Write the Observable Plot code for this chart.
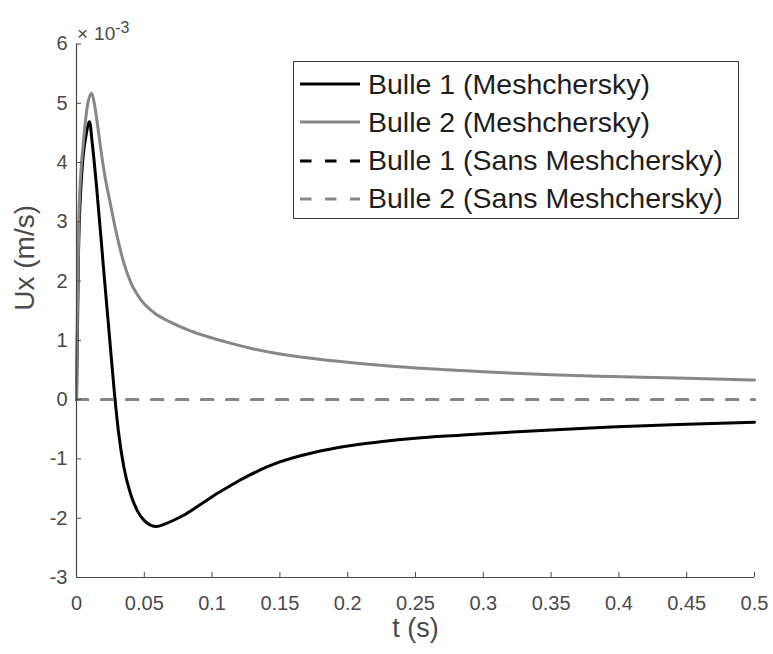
<!DOCTYPE html>
<html>
<head>
<meta charset="utf-8">
<script src="https://cdn.jsdelivr.net/npm/d3@7"></script>
<script src="https://cdn.jsdelivr.net/npm/@observablehq/plot@0.6"></script>
<style>
  body { margin: 0; background: #fff; font-family: "Liberation Sans", Arial, sans-serif; }
  #wrap { position: relative; width: 773px; height: 654px; }
  #legend { position: absolute; left: 293px; top: 61px; width: 446px; height: 158px;
            border: 1px solid #3a3a3a; background: #fff; box-sizing: border-box; }
  .row { position: absolute; left: 6px; height: 36px; display: flex; align-items: center; }
  .row span { font-size: 28.5px; color: #1e1e1e; margin-left: 8px; white-space: nowrap; }
  #expo { position: absolute; left: 77px; top: 19px; font-size: 19px; color: #4a4a4a; white-space: nowrap; font-family: "Liberation Sans", Arial, sans-serif; }
  #expo .x { margin-right: 6px; }
  #expo sup { font-size: 16px; vertical-align: 7px; }
</style>
</head>
<body>
<div id="wrap">
  <div id="chart"></div>
  <div id="legend"></div>
  <div id="expo"><span class="x">×</span>10<sup>-3</sup></div>
</div>
<script>
// ---- data (Ux in units of 1e-3 m/s) ----
const t1 = [0, 0.0015, 0.004, 0.007, 0.0096, 0.0116, 0.0152, 0.02, 0.024, 0.028, 0.031, 0.035, 0.04, 0.045, 0.05, 0.055, 0.059, 0.065, 0.072, 0.079, 0.09, 0.104, 0.115, 0.128, 0.14, 0.15, 0.175, 0.2, 0.224, 0.25, 0.283, 0.3, 0.35, 0.394, 0.45, 0.5];
const u1 = [0, 2.5, 3.85, 4.45, 4.69, 4.33, 3.49, 2.2, 1.15, 0.1, -0.55, -1.15, -1.6, -1.88, -2.04, -2.12, -2.14, -2.1, -2.03, -1.95, -1.79, -1.58, -1.43, -1.27, -1.14, -1.05, -0.89, -0.78, -0.71, -0.65, -0.6, -0.575, -0.51, -0.46, -0.415, -0.38];

const t2 = [0, 0.0006, 0.0017, 0.003, 0.0049, 0.008, 0.011, 0.0135, 0.016, 0.02, 0.025, 0.03, 0.035, 0.04, 0.047, 0.057, 0.07, 0.084, 0.1, 0.114, 0.13, 0.15, 0.187, 0.224, 0.26, 0.3, 0.35, 0.394, 0.45, 0.5];
const u2 = [0, 1.4, 3.0, 3.75, 4.3, 4.95, 5.17, 4.95, 4.55, 3.9, 3.3, 2.75, 2.3, 1.98, 1.7, 1.47, 1.3, 1.16, 1.04, 0.95, 0.86, 0.77, 0.66, 0.58, 0.52, 0.47, 0.42, 0.39, 0.36, 0.33];

const tSans = [0, 0.5];
const u1Sans = [0, 0];
const u2Sans = [0, 0];

const seriesNames = ["Bulle 1 (Meshchersky)", "Bulle 2 (Meshchersky)", "Bulle 1 (Sans Meshchersky)", "Bulle 2 (Sans Meshchersky)"];
const xTicks = [0, 0.05, 0.1, 0.15, 0.2, 0.25, 0.3, 0.35, 0.4, 0.45, 0.5];
const yTicks = [-3, -2, -1, 0, 1, 2, 3, 4, 5, 6];

// ---- styles ----
const BLACK = "#000000", GRAY = "#878787", AXIS = "#4a4a4a";
const DASH = "11.5,13.5";
const styles = [
  {stroke: BLACK, dash: null},
  {stroke: GRAY, dash: null},
  {stroke: BLACK, dash: DASH},
  {stroke: GRAY, dash: DASH}
];

const zip = (ts, us) => ts.map((t, i) => ({t, u: us[i]}));
const s1 = zip(t1, u1), s2 = zip(t2, u2), s3 = zip(tSans, u1Sans), s4 = zip(tSans, u2Sans);

const chart = Plot.plot({
  width: 773, height: 654,
  marginLeft: 76, marginRight: 19, marginTop: 43.5, marginBottom: 77,
  style: {fontFamily: "Liberation Sans, Arial, sans-serif", background: "white", color: AXIS, overflow: "visible"},
  x: {domain: [0, 0.5]},
  y: {domain: [-3, 6]},
  marks: [
    Plot.line(s1, {x: "t", y: "u", stroke: BLACK, strokeWidth: 3, curve: "monotone-x"}),
    Plot.line(s2, {x: "t", y: "u", stroke: GRAY, strokeWidth: 3, curve: "monotone-x"}),
    Plot.line(s3, {x: "t", y: "u", stroke: BLACK, strokeWidth: 2.5, strokeDasharray: DASH}),
    Plot.line(s4, {x: "t", y: "u", stroke: GRAY, strokeWidth: 2.5, strokeDasharray: DASH}),
    Plot.ruleX([0], {stroke: AXIS, strokeWidth: 1.2}),
    Plot.ruleY([-3], {stroke: AXIS, strokeWidth: 1.2}),
    Plot.axisX({ticks: xTicks, tickSize: -5, tickPadding: 23, tickFormat: d => String(+d.toFixed(2)), fontSize: 20, label: null, color: AXIS}),
    Plot.axisY({ticks: yTicks, tickSize: -5, tickPadding: 14, tickFormat: d => String(d), fontSize: 20, label: null, color: AXIS}),
    Plot.text(["Ux (m/s)"], {frameAnchor: "left", rotate: -90, dx: -51, fontSize: 28, fill: AXIS}),
    Plot.text(["t (s)"], {frameAnchor: "bottom", dy: 59, fontSize: 27, fill: AXIS})
  ]
});
document.getElementById("chart").appendChild(chart);

// ---- legend ----
const legend = document.getElementById("legend");
seriesNames.forEach((name, i) => {
  const row = document.createElement("div");
  row.className = "row";
  row.style.top = (4 + i * 38.3) + "px";
  const st = styles[i];
  row.innerHTML = `<svg width="60" height="6"><line x1="0" y1="3" x2="60" y2="3" stroke="${st.stroke}" stroke-width="3"${st.dash ? ` stroke-dasharray="${st.dash}"` : ""}/></svg><span>${name}</span>`;
  legend.appendChild(row);
});
</script>
</body>
</html>
